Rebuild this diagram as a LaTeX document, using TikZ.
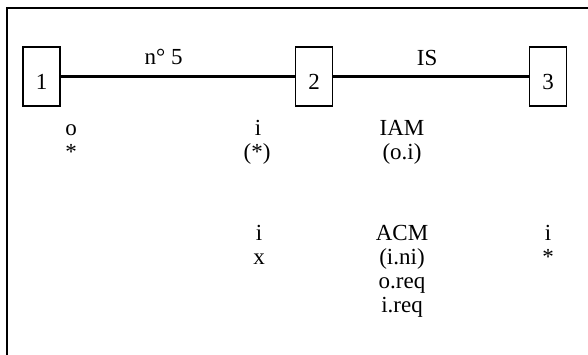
\documentclass[tikz,border=0pt]{standalone}
\usepackage{fontspec}
\setmainfont{Liberation Serif}
\usetikzlibrary{positioning}
\tikzset{
  station/.style={draw, line width=1.2pt, minimum width=37pt, minimum height=59pt,
    inner sep=0pt, text height=25pt, text depth=0pt, font=\fontsize{23}{24}\selectfont},
  link/.style={line width=3pt},
  lbl/.style={anchor=base, inner sep=0pt, font=\fontsize{23}{24}\selectfont},
  frame/.style={line width=1.6pt, line cap=rect}
}

\begin{document}
\begin{tikzpicture}[x=1pt, y=-1pt]

  \useasboundingbox (0,0) rectangle (588,354);

  \newcommand\Ra{135}; % first text row
  \newcommand\Rb{240}; % second text block
  \newcommand\dY{24};

  %% frame
  \draw[frame] (588,8) -- (7,8) -- (7,354);

  %% stations
  \node[station] (s1) at (41.5,76.5) {1};
  \node[station] (s2) at (314,76.5)  {2};
  \node[station] (s3) at (548,76.5)  {3};

  \draw[link] (s1) -- node[lbl, pos=.44, yshift=12pt] (l12) {n° 5} (s2); % 1-2
  \draw[link] (s2) -- node[lbl, pos=.48, yshift=11pt] (l23) {IS} (s3);   % 2-3

  %% first block
  \node[lbl] (o1)   at (71,\Ra)         {o};
  \node[lbl] (o1b)  at (71,\Ra+\dY)     {*};
  \node[lbl] (i2)   at (258,\Ra)        {i};
  \node[lbl] (i2b)  at (257,\Ra+\dY)    {(*)};
  \node[lbl] (iam)  at (402,\Ra)        {IAM};
  \node[lbl] (iamb) at (402,\Ra+\dY)    {(o.i)};

  %% second block
  \node[lbl] (i2c)  at (259,\Rb)        {i};
  \node[lbl] (x2)   at (259,\Rb+\dY)    {x};
  \node[lbl] (acm)  at (402,\Rb)        {ACM};
  \node[lbl] (acmb) at (402,\Rb+\dY)    {(i.ni)};
  \node[lbl] (oreq) at (402,\Rb+2*\dY)  {o.req};
  \node[lbl] (ireq) at (402,\Rb+3*\dY)  {i.req};
  \node[lbl] (i3)   at (548,\Rb)        {i};
  \node[lbl] (i3b)  at (548,\Rb+\dY)    {*};

\end{tikzpicture}
\end{document}
